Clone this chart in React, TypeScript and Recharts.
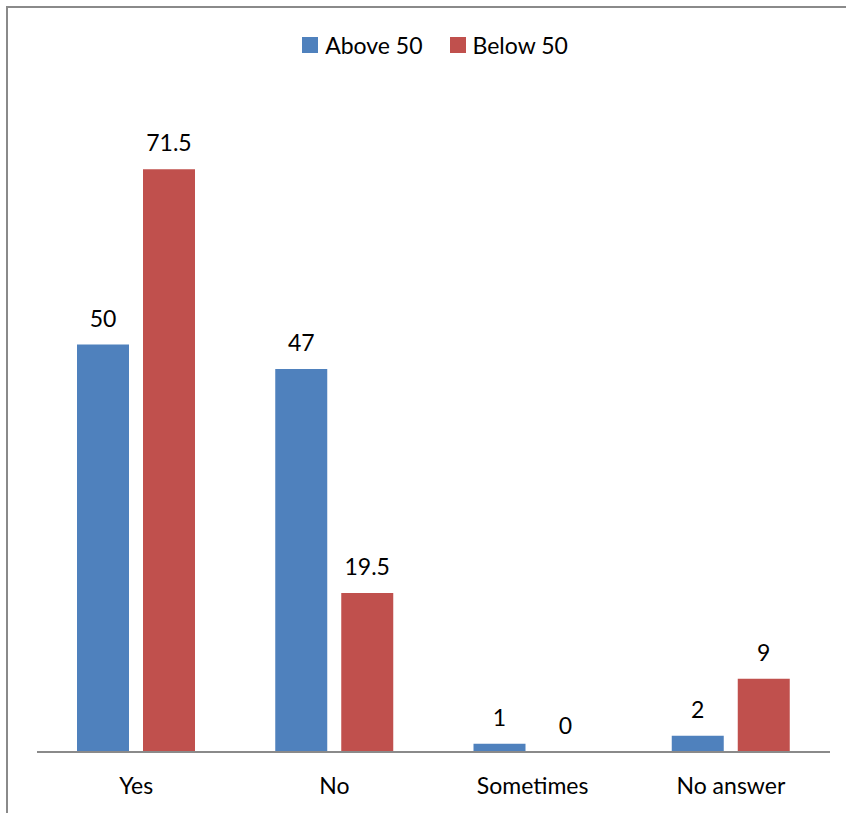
import React from "react";
import { BarChart, Bar, XAxis, YAxis, Legend, LabelList } from "recharts";

const categories = ["Yes", "No", "Sometimes", "No answer"];
const above50 = [50, 47, 1, 2];
const below50 = [71.5, 19.5, 0, 9];

const BLUE = "#4F81BD";
const RED = "#C0504D";
const FONT = "Lato, 'Open Sans', sans-serif";

const data = categories.map((name, i) => ({
  name,
  above: above50[i],
  below: below50[i],
}));

const legendItems = [
  { label: "Above 50", color: BLUE },
  { label: "Below 50", color: RED },
];

const renderLegend = () => (
  <div style={{ display: "flex", justifyContent: "center", gap: 27, fontFamily: FONT, fontSize: 23, color: "#000" }}>
    {legendItems.map((it) => (
      <div key={it.label} style={{ display: "flex", alignItems: "center", gap: 7 }}>
        <span style={{ width: 16, height: 16, background: it.color, display: "inline-block" }} />
        <span>{it.label}</span>
      </div>
    ))}
  </div>
);

// keep 0 visible as a label
const fmt = (v: number) => String(v);

export default function App() {
  return (
    <div style={{ position: "absolute", left: 0, top: 0, width: 846, height: 813, background: "#fff" }}>
      {/* chart frame: only top and left edges show */}
      <div
        style={{
          position: "absolute",
          left: 6,
          top: 6,
          right: 0,
          bottom: 0,
          borderTop: "2px solid #8a8a8a",
          borderLeft: "2px solid #8a8a8a",
        }}
      />
      <BarChart
        width={846}
        height={813}
        data={data}
        margin={{ top: 72, right: 16, bottom: 21, left: 37 }}
        barGap={14}
        barSize={52}
        style={{ position: "absolute", left: 0, top: 0 }}
      >
        <XAxis
          dataKey="name"
          height={40}
          stroke="#8a8a8a"
          strokeWidth={2}
          tickLine={false}
          tickSize={0}
          tickMargin={26}
          tick={{ fill: "#000", fontSize: 23, fontFamily: FONT }}
        />
        <YAxis hide domain={[0, 80]} />
        <Legend
          verticalAlign="top"
          content={renderLegend}
          wrapperStyle={{ top: 31, left: 12, width: 846 }}
        />
        <Bar dataKey="above" fill={BLUE} minPointSize={0.01} isAnimationActive={false}>
          <LabelList dataKey="above" position="top" offset={18} formatter={fmt} fill="#000" fontSize={23} fontFamily={FONT} />
        </Bar>
        <Bar dataKey="below" fill={RED} minPointSize={0.01} isAnimationActive={false}>
          <LabelList dataKey="below" position="top" offset={18} formatter={fmt} fill="#000" fontSize={23} fontFamily={FONT} />
        </Bar>
      </BarChart>
    </div>
  );
}
